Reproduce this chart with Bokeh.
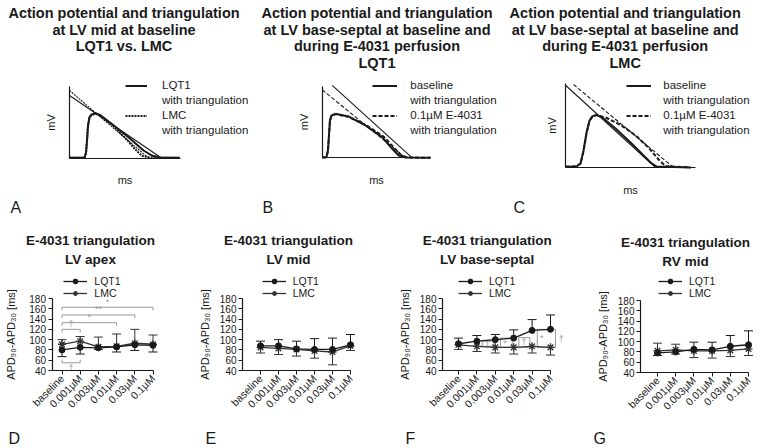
import math
from bokeh.plotting import figure
from bokeh.models import Range1d, Label, Legend, LegendItem, FixedTicker, ColumnDataSource
from bokeh.layouts import row, column
from bokeh.embed import file_html
from bokeh.resources import INLINE

FONT = "Liberation Sans"
INK = "#1a1a1a"
INK2 = "#333333"
GRAY = "#9a9a9a"

# ---------------- data: action potential panels (ms, mV) ----------------
a_lqt1_t = [0, 60, 66, 70, 74, 80, 88, 104, 124, 172, 236, 296, 332, 364, 440]
a_lqt1_v = [-89, -89, -81, -63, -40, -28, -24, -22, -25, -39, -58, -78, -86, -88.5, -89]
a_lmc_t = [0, 60, 66, 70, 74, 80, 88, 104, 124, 172, 230, 262, 290, 320, 440]
a_lmc_v = [-89, -89, -82, -65, -42, -29, -25, -23, -26, -40, -62, -76, -86, -88.5, -89]
a_lqt1_tri_t = [0, 359]
a_lqt1_tri_v = [4.5, -87]
a_lmc_tri_t = [0, 312]
a_lmc_tri_v = [12, -88]

b_base_t = [0, 17, 23, 27, 31, 37, 53, 105, 173, 240, 280, 306, 333, 433]
b_base_v = [-89.5, -89, -79, -56.5, -34, -26.5, -24, -28, -41.5, -59, -76.5, -86.5, -89.5, -90]
b_e4031_t = [0, 17, 23, 27, 31, 37, 53, 105, 180, 248, 290, 316, 340, 433]
b_e4031_v = [-89.5, -89, -80, -58, -35, -27, -24.5, -28.5, -42, -59, -76, -86, -89.5, -90]
b_base_tri_t = [40, 360]
b_base_tri_v = [18.5, -90]
b_e4031_tri_t = [0, 333]
b_e4031_tri_v = [12, -90]

c_base_t = [0, 43, 59, 71, 83, 95, 107, 123, 147, 199, 259, 311, 339, 363, 499]
c_base_v = [-89, -88.5, -84, -64.5, -37.5, -19.5, -13, -11, -15.5, -31.5, -52.5, -72, -82.5, -88.5, -90]
c_e4031_t = [0, 43, 59, 71, 83, 95, 107, 123, 159, 219, 283, 335, 371, 399, 499]
c_e4031_v = [-89, -88, -84, -65, -38, -20, -13.5, -11.5, -15, -26, -43, -62, -78, -88, -90]
c_base_tri_t = [0, 359]
c_base_tri_v = [33, -90]
c_e4031_tri_t = [31, 431]
c_e4031_tri_v = [34.5, -90]

# ---------------- data: triangulation panels (APD90-APD30, ms) ----------------
cats = ["baseline", "0.001µM", "0.003µM", "0.01µM", "0.03µM", "0.1µM"]
yticks = [40, 60, 80, 100, 120, 140, 160, 180]

d_lqt1 = [80, 85, 84, 86, 90, 89]
d_lqt1_sd = [13, 13, 3, 10, 11, 13]
d_lqt1_dir = [-1, -1, -1, -1, -1, -1]
d_lmc = [91, 97, 86, 87, 93, 91]
d_lmc_sd = [9, 9, 19, 24, 27, 18]

e_lqt1 = [88, 88, 82, 81, 81, 90]
e_lqt1_sd = [9, 12, 15, 21, 22, 20]
e_lqt1_dir = [1, 1, 1, 1, 1, 1]
e_lmc = [85, 83, 81, 78, 76, 88]
e_lmc_sd = [11, 12, 13, 14, 25, 9]

f_lqt1 = [92, 97, 100, 103, 118, 120]
f_lqt1_sd = [11, 11, 10, 16, 21, 28]
f_lqt1_dir = [1, 1, 1, 1, 1, 1]
f_lmc = [90, 87, 85, 85, 87, 85]
f_lmc_sd = [9, 10, 11, 13, 13, 15]

g_lqt1 = [78, 80, 85, 84, 91, 94]
g_lqt1_sd = [5, 4, 14, 15, 21, 27]
g_lqt1_dir = [-1, -1, 1, 1, 1, 1]
g_lmc = [82, 84, 82, 82, 83, 86]
g_lmc_sd = [15, 11, 13, 14, 12, 13]

# significance annotations
d_brackets_up = [(0, 5, 163, "*"), (0, 4, 148, "**"), (0, 3, 133, "*"), (0, 1, 120, "†")]
d_brackets_down = [(0, 1, 55, "†")]
f_boxes = [(1.29, 1.92, 87, 97, "†"), (2.28, 2.92, 85, 103, "*"),
           (3.28, 3.88, 85, 104, "†"), (4.28, 5.27, 85, 120, "*")]
f_side_mark = (5.45, 102, "†")


def add_label(p, L, B, rx, ry, text, size, bold=False, align="left", color=INK):
    # (rx, ry): page-pixel anchor, vertically centred
    p.add_layout(Label(x=rx - L, y=B - ry, x_units="screen", y_units="screen",
                       text=text, text_font=FONT, text_font_size=f"{size}px",
                       text_font_style="bold" if bold else "normal",
                       text_align=align, text_baseline="middle", text_color=color))


def base_style(p):
    p.xgrid.visible = False
    p.ygrid.visible = False
    p.outline_line_color = None
    p.background_fill_color = None
    p.border_fill_color = "white"
    for ax in (p.xaxis[0], p.yaxis[0]):
        ax.axis_line_color = INK
        ax.axis_line_width = 1.2
        ax.major_tick_line_color = INK
        ax.minor_tick_line_color = None
        ax.major_label_text_font = FONT
        ax.major_label_text_color = INK
        ax.axis_label_text_font = FONT
        ax.axis_label_text_font_style = "normal"
        ax.axis_label_text_color = INK


def ap_figure(box, ax_x, ax_y, t_end, v_top, c1, c2, tri1, tri2, dash, labels,
              leg_x, glyph_w, standoff, titles, title_cx, letter, letter_x,
              mv_sd, ms_sd):
    L, T, R, B = box
    ms_px, mv_px = 4.0, 1.5
    p = figure(width=R - L, height=B - T,
               x_range=Range1d(-(ax_x - L) * ms_px, (R - ax_x) * ms_px),
               y_range=Range1d(-90 - (B - ax_y) * mv_px, -90 + (ax_y - T) * mv_px),
               output_backend="svg", toolbar_location=None, title=None, min_border=0)
    base_style(p)
    p.xaxis.fixed_location = -90
    p.xaxis.bounds = (0, t_end)
    p.yaxis.fixed_location = 0
    p.yaxis.bounds = (-90, v_top)
    for ax in (p.xaxis[0], p.yaxis[0]):
        ax.ticker = FixedTicker(ticks=[])
        ax.major_tick_line_color = None
        ax.major_label_text_font_size = "0px"
        ax.axis_label_text_font_size = "11px"
    p.xaxis.axis_label = "ms"
    p.yaxis.axis_label = "mV"
    p.xaxis.axis_label_standoff = ms_sd
    p.yaxis.axis_label_standoff = mv_sd

    p.line(tri1[0], tri1[1], line_color=INK, line_width=1.1)
    p.line(tri2[0], tri2[1], line_color=INK, line_width=1.1, line_dash=dash)
    r1 = p.line(c1[0], c1[1], line_color=INK, line_width=2)
    r2 = p.line(c2[0], c2[1], line_color=INK, line_width=2, line_dash=dash)
    dummy = p.line([0, 0], [0, 0], line_alpha=0)
    leg = Legend(items=[LegendItem(label=labels[0], renderers=[r1]),
                        LegendItem(label="with triangulation", renderers=[dummy]),
                        LegendItem(label=labels[1], renderers=[r2]),
                        LegendItem(label="with triangulation", renderers=[dummy])],
                 location=(leg_x - L, B - 136.5), padding=0, margin=0, spacing=2,
                 glyph_width=glyph_w, glyph_height=13, label_height=13,
                 label_standoff=standoff, label_text_font=FONT,
                 label_text_font_size="11.5px", label_text_color=INK,
                 background_fill_alpha=0, border_line_color=None)
    p.add_layout(leg)
    for i, t in enumerate(titles):
        add_label(p, L, B, title_cx, 12.5 + i * 16.7, t, 14.5, bold=True, align="center")
    add_label(p, L, B, letter_x, 207, letter, 16)
    return p


def trend_figure(box, cat0, step, axis_px, y180, y40, lq, lq_sd, lq_dir, lm, lm_sd,
                 titles, title_cx, title_cy, leg_x, letter, letter_x, ylab_sd, annot=None):
    L, T, R, B = box
    upp = 140.0 / (y40 - y180)
    p = figure(width=R - L, height=B - T,
               x_range=Range1d((L - cat0) / step, (R - cat0) / step),
               y_range=Range1d(40 - (B - y40) * upp, 40 + (y40 - T) * upp),
               output_backend="svg", toolbar_location=None, title=None, min_border=0)
    base_style(p)
    ax_val = (axis_px - cat0) / step
    xs = list(range(len(cats)))
    p.yaxis.fixed_location = ax_val
    p.yaxis.bounds = (40, 180)
    p.yaxis.ticker = FixedTicker(ticks=yticks)
    p.xaxis.fixed_location = 40
    p.xaxis.bounds = (ax_val, xs[-1])
    p.xaxis.ticker = FixedTicker(ticks=xs)
    p.xaxis.major_label_overrides = {i: c for i, c in zip(xs, cats)}
    p.xaxis.major_label_orientation = math.pi / 4
    for ax in (p.xaxis[0], p.yaxis[0]):
        ax.major_tick_out = 4
        ax.major_tick_in = 0
        ax.major_label_standoff = 2
        ax.major_label_text_font_size = "10px"
    p.xaxis.major_label_text_font_size = "10.5px"
    p.yaxis.axis_label = "APD₉₀-APD₃₀ [ms]"
    p.yaxis.axis_label_text_font_size = "11px"
    p.yaxis.axis_label_standoff = ylab_sd

    if annot is not None:
        annot(p)

    lq_end = [m + d * s for m, s, d in zip(lq, lq_sd, lq_dir)]
    lm_end = [m - d * s for m, s, d in zip(lm, lm_sd, lq_dir)]
    s_lq = ColumnDataSource(dict(x=xs, y=lq, end=lq_end))
    s_lm = ColumnDataSource(dict(x=xs, y=lm, end=lm_end))
    for src, col in ((s_lm, INK2), (s_lq, INK)):
        p.segment(x0="x", y0="y", x1="x", y1="end", source=src, line_color=col, line_width=1)
        p.scatter(x="x", y="end", source=src, marker="dash", size=9, line_color=col, line_width=1)
    lm_line = p.line("x", "y", source=s_lm, line_color=INK2, line_width=1.3)
    lq_line = p.line("x", "y", source=s_lq, line_color=INK, line_width=1.3)
    lm_mark = p.scatter("x", "y", source=s_lm, marker="asterisk", size=8, line_color=INK2, line_width=1.3)
    lq_mark = p.scatter("x", "y", source=s_lq, marker="circle", size=6, fill_color=INK, line_color=INK)

    leg = Legend(items=[LegendItem(label="LQT1", renderers=[lq_line, lq_mark]),
                        LegendItem(label="LMC", renderers=[lm_line, lm_mark])],
                 location=(leg_x - L, B - 299), padding=0, margin=0, spacing=0,
                 glyph_width=24, glyph_height=12, label_height=12, label_standoff=7,
                 label_text_font=FONT, label_text_font_size="10.5px", label_text_color=INK,
                 background_fill_alpha=0, border_line_color=None)
    p.add_layout(leg)
    for i, t in enumerate(titles):
        add_label(p, L, B, title_cx, title_cy + i * 18.5, t, 13.5, bold=True, align="center")
    add_label(p, L, B, letter_x, 438, letter, 16)
    return p


def annot_d(p):
    xs, ys, tx, ty, tt = [], [], [], [], []
    for a, b, y, s in d_brackets_up:
        xs.append([a, a, b, b]); ys.append([y - 6, y, y, y - 6])
        tx.append((a + b) / 2); ty.append(y + 1); tt.append(s)
    p.multi_line(xs, ys, line_color=GRAY, line_width=1)
    p.text(tx, ty, text=tt, text_align="center", text_baseline="bottom",
           text_font_size="9px", text_color=GRAY)
    xs, ys, tx, ty, tt = [], [], [], [], []
    for a, b, y, s in d_brackets_down:
        xs.append([a, a, b, b]); ys.append([y + 6, y, y, y + 6])
        tx.append((a + b) / 2); ty.append(y - 1); tt.append(s)
    p.multi_line(xs, ys, line_color=GRAY, line_width=1)
    p.text(tx, ty, text=tt, text_align="center", text_baseline="top",
           text_font_size="9px", text_color=GRAY)


def annot_f(p):
    p.quad(left=[b[0] for b in f_boxes], right=[b[1] for b in f_boxes],
           bottom=[b[2] for b in f_boxes], top=[b[3] for b in f_boxes],
           fill_alpha=0, line_color=GRAY, line_width=1)
    p.text([b[0] + 0.15 for b in f_boxes], [(b[2] + b[3]) / 2 for b in f_boxes],
           text=[b[4] for b in f_boxes], text_align="left", text_baseline="middle",
           text_font_size="9px", text_color=GRAY)
    p.text([f_side_mark[0]], [f_side_mark[1]], text=[f_side_mark[2]], text_align="left",
           text_baseline="middle", text_font_size="9px", text_color=GRAY)


pA = ap_figure((0, 0, 257, 222), 69, 158, 444, 18,
               (a_lqt1_t, a_lqt1_v), (a_lmc_t, a_lmc_v),
               (a_lqt1_tri_t, a_lqt1_tri_v), (a_lmc_tri_t, a_lmc_tri_v), "2 1",
               ["LQT1", "LMC"], 125, 22, 15,
               ["Action potential and triangulation", "at LV mid at baseline", "LQT1 vs. LMC"],
               123.5, "A", 10, 13, 15)
pB = ap_figure((257, 0, 506, 222), 321.7, 157.3, 433, 17,
               (b_base_t, b_base_v), (b_e4031_t, b_e4031_v),
               (b_base_tri_t, b_base_tri_v), (b_e4031_tri_t, b_e4031_tri_v), "4 2",
               ["baseline", "0.1µM E-4031"], 372.3, 25, 13,
               ["Action potential and triangulation", "at LV base-septal at baseline and",
                "during E-4031 perfusion", "LQT1"],
               376.5, "B", 262, 13, 16)
pC = ap_figure((506, 0, 762, 222), 565.3, 167, 518, 35.5,
               (c_base_t, c_base_v), (c_e4031_t, c_e4031_v),
               (c_base_tri_t, c_base_tri_v), (c_e4031_tri_t, c_e4031_tri_v), "4 2",
               ["baseline", "0.1µM E-4031"], 626.3, 25, 12,
               ["Action potential and triangulation", "at LV base-septal at baseline and",
                "during E-4031 perfusion", "LMC"],
               624.7, "C", 513, 8, 16)

pD = trend_figure((0, 222, 190, 448), 61.5, 18.2, 51.5, 298, 370,
                  d_lqt1, d_lqt1_sd, d_lqt1_dir, d_lmc, d_lmc_sd,
                  ["E-4031 triangulation", "LV apex"], 90, 240, 63.3, "D", 8, 10, annot_d)
pE = trend_figure((190, 222, 380, 448), 260, 18.0, 242, 298, 370,
                  e_lqt1, e_lqt1_sd, e_lqt1_dir, e_lmc, e_lmc_sd,
                  ["E-4031 triangulation", "LV mid"], 288, 240, 261.7, "E", 205, 6)
pF = trend_figure((380, 222, 575, 448), 458, 18.4, 442, 298, 370,
                  f_lqt1, f_lqt1_sd, f_lqt1_dir, f_lmc, f_lmc_sd,
                  ["E-4031 triangulation", "LV base-septal"], 486.7, 240, 458, "F", 405, 6, annot_f)
pG = trend_figure((575, 222, 762, 448), 657, 18.2, 640, 300, 372,
                  g_lqt1, g_lqt1_sd, g_lqt1_dir, g_lmc, g_lmc_sd,
                  ["E-4031 triangulation", "RV mid"], 685, 242, 658, "G", 593, 6)

layout = column(row(pA, pB, pC), row(pD, pE, pF, pG))
open("out.html", "w").write(file_html(layout, INLINE))
